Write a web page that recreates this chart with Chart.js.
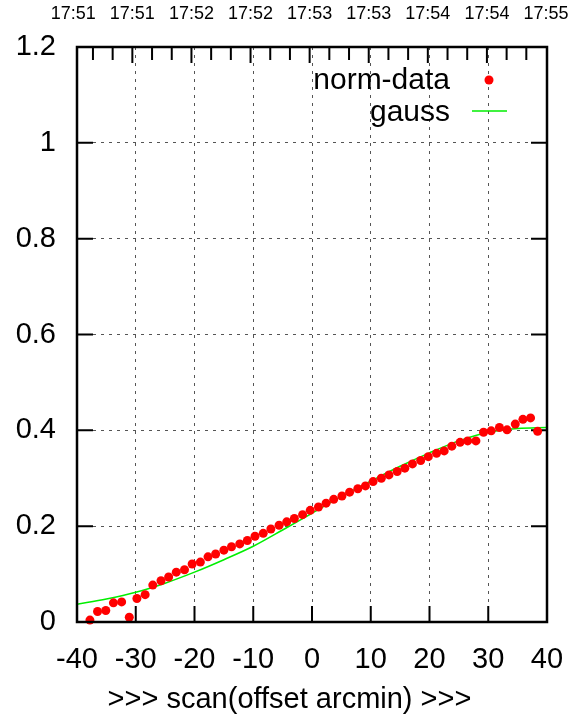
<!DOCTYPE html>
<html>
<head>
<meta charset="utf-8">
<script src="https://cdn.jsdelivr.net/npm/chart.js@4"></script>
<style>
  html, body { margin: 0; padding: 0; background: #fff; }
  canvas { display: block; }
</style>
</head>
<body>
<canvas id="chart" width="579" height="721"></canvas>
<script>
// scan offsets (arcmin) and normalised data
const offsets = [-37.8, -36.5, -35.1, -33.8, -32.4, -31.1, -29.8, -28.4, -27.1, -25.7,
  -24.4, -23.1, -21.7, -20.4, -19.0, -17.7, -16.4, -15.0, -13.7, -12.3,
  -11.0, -9.7, -8.3, -7.0, -5.6, -4.3, -3.0, -1.6, -0.3, 1.1,
  2.4, 3.7, 5.1, 6.4, 7.8, 9.1, 10.4, 11.8, 13.1, 14.5,
  15.8, 17.1, 18.5, 19.8, 21.2, 22.5, 23.8, 25.2, 26.5, 27.9,
  29.2, 30.5, 31.9, 33.2, 34.6, 35.9, 37.2, 38.4];
const normData = [0.004, 0.022, 0.024, 0.040, 0.042, 0.010, 0.049, 0.057, 0.077, 0.086,
  0.094, 0.104, 0.109, 0.121, 0.125, 0.136, 0.142, 0.150, 0.157, 0.163,
  0.170, 0.179, 0.185, 0.194, 0.202, 0.209, 0.216, 0.224, 0.233, 0.240,
  0.248, 0.256, 0.263, 0.271, 0.278, 0.284, 0.293, 0.300, 0.307, 0.314,
  0.321, 0.330, 0.337, 0.345, 0.352, 0.357, 0.367, 0.375, 0.378, 0.378,
  0.396, 0.399, 0.406, 0.401, 0.413, 0.423, 0.426, 0.398];

// fitted gauss curve
const gaussX = [-40, -35, -30, -25, -20, -15, -10, -5, 0, 5, 10, 15, 20, 25, 30, 35, 40];
const gaussY = [0.037, 0.048, 0.062, 0.081, 0.104, 0.130, 0.158, 0.192, 0.227, 0.262,
  0.294, 0.325, 0.353, 0.378, 0.396, 0.404, 0.406];

// tick labels
const xTicks = [-40, -30, -20, -10, 0, 10, 20, 30, 40];
const yTickLabels = ['0', '0.2', '0.4', '0.6', '0.8', '1', '1.2'];
const timeLabels = ['17:51', '17:51', '17:52', '17:52', '17:53', '17:53', '17:54', '17:54', '17:55'];
const timeTicks = [0, 10, 20, 30, 40, 50, 60, 70, 80, 90, 100, 110, 120, 130, 140, 150,
  160, 170, 180, 190, 200, 210, 220, 230, 240];
const xTitle = '>>> scan(offset arcmin) >>>';

const FONT = "'Liberation Sans', Arial, sans-serif";

// keep the plot box where layout.padding puts it
const noPad = s => { s.paddingLeft = 0; s.paddingRight = 0; s.paddingTop = 0; s.paddingBottom = 0; };

// border, inward tick marks, x title and in-plot legend
const framePlugin = {
  id: 'frame',
  beforeDatasetsDraw(chart) {
    const { ctx, chartArea: a, scales } = chart;
    ctx.save();
    ctx.strokeStyle = '#000';
    ctx.lineWidth = 2;
    ctx.beginPath();
    scales.x.ticks.forEach(t => {
      const px = scales.x.getPixelForValue(t.value);
      ctx.moveTo(px, a.bottom); ctx.lineTo(px, a.bottom - 16);
    });
    scales.y.ticks.forEach(t => {
      const py = scales.y.getPixelForValue(t.value);
      ctx.moveTo(a.left, py); ctx.lineTo(a.left + 16, py);
      ctx.moveTo(a.right, py); ctx.lineTo(a.right - 16, py);
    });
    scales.x2.ticks.forEach(t => {
      const px = scales.x2.getPixelForValue(t.value);
      if (px < a.left + 1 || px > a.right - 1) return;
      const len = t.value % 30 === 0 ? 16 : 13;
      ctx.moveTo(px, a.top); ctx.lineTo(px, a.top + len);
    });
    ctx.stroke();
    ctx.restore();
  },
  afterDraw(chart) {
    const { ctx, chartArea: a } = chart;
    ctx.save();
    ctx.strokeStyle = '#000';
    ctx.lineWidth = 2.5;
    ctx.strokeRect(a.left, a.top, a.right - a.left, a.bottom - a.top);

    ctx.font = '29px ' + FONT;
    ctx.fillStyle = '#000';
    ctx.textAlign = 'center';
    ctx.textBaseline = 'middle';
    ctx.fillText(xTitle, chart.width / 2, 700);

    const ds = chart.data.datasets;
    ctx.font = '30px ' + FONT;
    ctx.textAlign = 'right';
    ctx.fillText(ds[0].label, 450, 81);
    ctx.fillText(ds[1].label, 450, 113);
    ctx.fillStyle = ds[0].backgroundColor;
    ctx.beginPath();
    ctx.arc(489, 80, 4.5, 0, Math.PI * 2);
    ctx.fill();
    ctx.strokeStyle = ds[1].borderColor;
    ctx.lineWidth = 1.5;
    ctx.beginPath();
    ctx.moveTo(472, 111); ctx.lineTo(507, 111);
    ctx.stroke();
    ctx.restore();
  }
};

new Chart(document.getElementById('chart'), {
  type: 'scatter',
  data: {
    datasets: [{
      label: 'norm-data',
      data: offsets.map((x, i) => ({ x, y: normData[i] })),
      backgroundColor: '#ff0000',
      borderColor: '#ff0000',
      pointRadius: 4.5,
      pointBorderWidth: 0,
      clip: false,
      order: 1
    }, {
      label: 'gauss',
      type: 'line',
      data: gaussX.map((x, i) => ({ x, y: gaussY[i] })),
      borderColor: '#00ee00',
      borderWidth: 1.5,
      pointRadius: 0,
      cubicInterpolationMode: 'monotone',
      order: 2
    }]
  },
  options: {
    responsive: false,
    animation: false,
    layout: { padding: { left: 0, right: 32, top: 0, bottom: 0 } },
    plugins: { legend: { display: false }, tooltip: { enabled: false } },
    scales: {
      x: {
        type: 'linear',
        position: 'bottom',
        min: -40,
        max: 40,
        afterBuildTicks: s => { s.ticks = xTicks.map(v => ({ value: v })); },
        afterFit: s => { s.height = 99; noPad(s); },
        ticks: { color: '#000', font: { family: FONT, size: 29 }, padding: 21, maxRotation: 0 },
        grid: { color: '#555', lineWidth: 1, drawTicks: false },
        border: { display: false, dash: [3, 5] }
      },
      x2: {
        type: 'linear',
        position: 'top',
        min: 1.9,
        max: 240.5,
        afterBuildTicks: s => { s.ticks = timeTicks.map(v => ({ value: v })); },
        afterFit: s => { s.height = 47; noPad(s); },
        ticks: {
          color: '#000',
          font: { family: FONT, size: 18 },
          padding: 22,
          autoSkip: false,
          maxRotation: 0,
          callback: v => (v % 30 === 0 ? timeLabels[v / 30] : '')
        },
        grid: { display: false, drawTicks: false },
        border: { display: false }
      },
      y: {
        type: 'linear',
        min: 0,
        max: 1.2,
        afterBuildTicks: s => { s.ticks = yTickLabels.map(l => ({ value: parseFloat(l) })); },
        afterFit: s => { s.width = 77; noPad(s); },
        ticks: {
          color: '#000',
          font: { family: FONT, size: 29 },
          padding: 21,
          callback: (v, i) => yTickLabels[i]
        },
        grid: { color: '#555', lineWidth: 1, drawTicks: false },
        border: { display: false, dash: [3, 5] }
      }
    }
  },
  plugins: [framePlugin]
});
</script>
</body>
</html>
